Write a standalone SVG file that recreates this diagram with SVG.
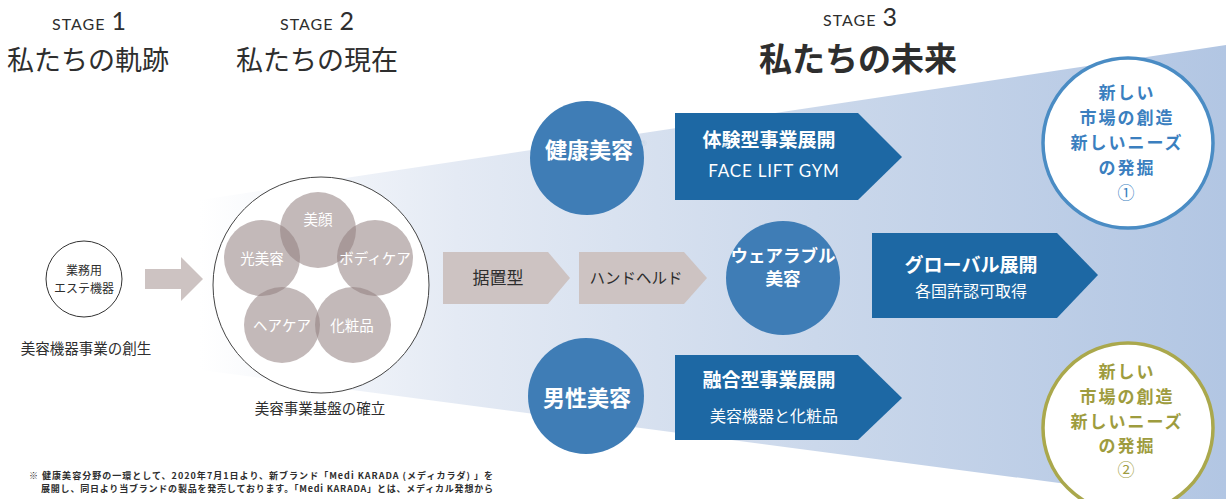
<svg xmlns="http://www.w3.org/2000/svg" width="1226" height="499" viewBox="0 0 1226 499">
<defs>
<linearGradient id="beam" x1="200" y1="0" x2="1226" y2="0" gradientUnits="userSpaceOnUse">
<stop offset="0" stop-color="#ffffff"/>
<stop offset="0.25" stop-color="#e4eaf4"/>
<stop offset="0.6" stop-color="#cbd8eb"/>
<stop offset="1" stop-color="#b2c6e3"/>
</linearGradient>
<style>
.jp{font-family:"Noto Sans CJK JP","Noto Sans",sans-serif;}
.lat{font-family:"Lato","Noto Sans",sans-serif;}
.dark{fill:#2e2e2e;}
.stage{font-size:16px;letter-spacing:1px;}
.num{font-size:25px;}
.title{font-size:27px;}
.gray{fill:#cdc3c2;}
.petal{fill:#928080;fill-opacity:0.55;}
.ptxt{fill:#ffffff;font-size:14.5px;}
.bcircle{fill:#3f7db6;}
.barrow{fill:#1d68a4;}
.wt{fill:#ffffff;}
.head{font-size:19px;font-weight:700;}
.sub{font-size:16px;}
.ctxt{font-size:22px;font-weight:700;}
.rtxt{font-size:17px;font-weight:700;letter-spacing:2px;}
</style>
</defs>
<rect x="0" y="0" width="1226" height="499" fill="#ffffff"/>
<polygon points="200,200 1226,45 1226,505 200,370" fill="url(#beam)"/>

<g id="headers" text-anchor="middle">
<text class="lat dark" x="89" y="30"><tspan class="stage">STAGE</tspan><tspan class="num" dx="6">1</tspan></text>
<text class="jp dark title" x="88" y="70">私たちの軌跡</text>
<text class="lat dark" x="317" y="30"><tspan class="stage">STAGE</tspan><tspan class="num" dx="6">2</tspan></text>
<text class="jp dark title" x="317" y="70">私たちの現在</text>
<text class="lat dark" x="860" y="26"><tspan class="stage">STAGE</tspan><tspan class="num" dx="6" font-size="24">3</tspan></text>
<text class="jp dark" x="858" y="71" font-size="33" font-weight="700">私たちの未来</text>
</g>

<g id="connectors">
<polygon class="gray" points="145,269 181,269 181,257 203,279 181,301 181,289 145,289"/>
</g>

<g id="stage1-node">
<circle cx="84" cy="279" r="38" fill="#ffffff" stroke="#333333" stroke-width="1"/>
<text class="jp dark" x="84" y="275" font-size="12" text-anchor="middle">業務用</text>
<text class="jp dark" x="84" y="293" font-size="12" text-anchor="middle">エステ機器</text>
<text class="jp dark" x="86" y="354" font-size="14.5" text-anchor="middle">美容機器事業の創生</text>
</g>

<g id="stage2-node">
<circle cx="321" cy="285" r="108" fill="#ffffff" stroke="#444444" stroke-width="1"/>
<circle class="petal" cx="318" cy="230" r="38"/>
<circle class="petal" cx="262" cy="258" r="38"/>
<circle class="petal" cx="375" cy="258" r="38"/>
<circle class="petal" cx="282" cy="325" r="38"/>
<circle class="petal" cx="353" cy="325" r="38"/>
<g class="jp ptxt" text-anchor="middle">
<text x="318" y="225">美顔</text>
<text x="262" y="264">光美容</text>
<text x="375" y="264">ボディケア</text>
<text x="282" y="331">ヘアケア</text>
<text x="352" y="331">化粧品</text>
</g>
<text class="jp dark" x="320" y="414" font-size="14.5" text-anchor="middle">美容事業基盤の確立</text>
</g>

<g id="sueoki">
<polygon class="gray" points="443,252 548,252 570,278 548,304 443,304"/>
<text class="jp dark" x="498" y="284" font-size="17" text-anchor="middle">据置型</text>
</g>
<g id="handheld">
<polygon class="gray" points="579,252 684,252 707,278 684,304 579,304"/>
<text class="jp dark" x="636" y="284" font-size="15.5" text-anchor="middle">ハンドヘルド</text>
</g>

<g id="kenko">
<circle class="bcircle" cx="587" cy="158" r="57"/>
<text class="jp wt ctxt" x="589" y="158" text-anchor="middle">健康美容</text>
<text class="lat" x="644" y="146" font-size="7" fill="#c9d6e6" text-anchor="middle">®</text>
</g>
<g id="wearable">
<circle class="bcircle" cx="783" cy="278" r="57"/>
<text class="jp wt" x="783" y="262" font-size="17.5" font-weight="700" text-anchor="middle">ウェアラブル</text>
<text class="jp wt" x="783" y="285" font-size="17.5" font-weight="700" text-anchor="middle">美容</text>
</g>
<g id="dansei">
<circle class="bcircle" cx="586" cy="396" r="58"/>
<text class="jp wt ctxt" x="587" y="406" text-anchor="middle">男性美容</text>
</g>

<g id="taiken">
<polygon class="barrow" points="675,113 858,113 902,157 858,200 675,200"/>
<text class="jp wt head" x="769" y="147" text-anchor="middle">体験型事業展開</text>
<text class="lat wt" x="774" y="177" font-size="17" letter-spacing="0.8" text-anchor="middle">FACE LIFT GYM</text>
</g>
<g id="global">
<polygon class="barrow" points="872,233 1057,233 1098,275 1057,318 872,318"/>
<text class="jp wt head" x="971" y="272" text-anchor="middle">グローバル展開</text>
<text class="jp wt sub" x="971" y="297" text-anchor="middle">各国許認可取得</text>
</g>
<g id="yugo">
<polygon class="barrow" points="675,355 858,355 902,398 858,440 675,440"/>
<text class="jp wt head" x="769" y="387" text-anchor="middle">融合型事業展開</text>
<text class="jp wt sub" x="774" y="422" text-anchor="middle">美容機器と化粧品</text>
</g>

<g id="market1">
<circle cx="1128" cy="143" r="85" fill="#ffffff" stroke="#4a8cc4" stroke-width="3.5"/>
<g class="jp rtxt" fill="#3b7fbf" text-anchor="middle">
<text x="1127" y="99">新しい</text>
<text x="1127" y="124">市場の創造</text>
<text x="1127" y="149">新しいニーズ</text>
<text x="1127" y="174">の発掘</text>
<text x="1127" y="199" font-weight="400">①</text>
</g>
</g>
<g id="market2">
<circle cx="1128" cy="428" r="85" fill="#ffffff" stroke="#aaa84c" stroke-width="3.5"/>
<g class="jp rtxt" fill="#9e9c3e" text-anchor="middle">
<text x="1127" y="378">新しい</text>
<text x="1127" y="403">市場の創造</text>
<text x="1127" y="428">新しいニーズ</text>
<text x="1127" y="452">の発掘</text>
<text x="1127" y="476" font-weight="400">②</text>
</g>
</g>

<g id="footnote" class="jp dark" font-size="9" font-weight="700">
<text x="29" y="479" textLength="464" lengthAdjust="spacing">※ 健康美容分野の一環として、2020年7月1日より、新ブランド「Medi KARADA (メディカラダ) 」を</text>
<text x="41" y="492" textLength="452" lengthAdjust="spacing">展開し、同日より当ブランドの製品を発売しております。「Medi KARADA」とは、メディカル発想から</text>
</g>
</svg>
